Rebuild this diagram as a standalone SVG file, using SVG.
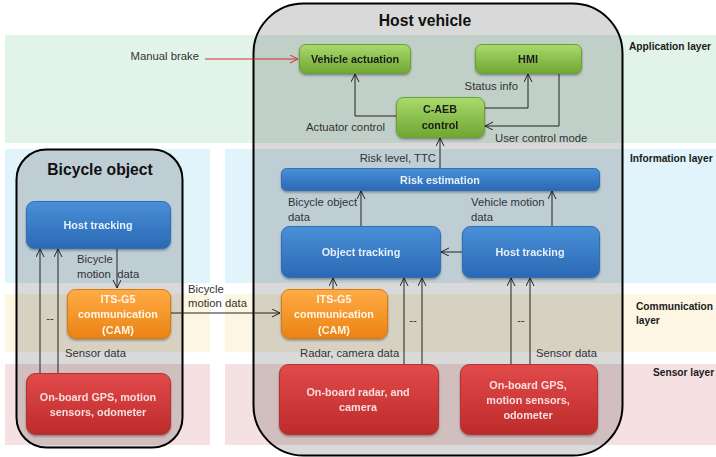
<svg xmlns="http://www.w3.org/2000/svg" width="716" height="457" viewBox="0 0 716 457">
<defs>
<linearGradient id="gG" x1="0" y1="0" x2="0" y2="1"><stop offset="0" stop-color="#a9da6e"/><stop offset="1" stop-color="#6fa631"/></linearGradient>
<linearGradient id="gB" x1="0" y1="0" x2="0" y2="1"><stop offset="0" stop-color="#4a8fd8"/><stop offset="1" stop-color="#2a69b5"/></linearGradient>
<linearGradient id="gO" x1="0" y1="0" x2="0" y2="1"><stop offset="0" stop-color="#ffac45"/><stop offset="1" stop-color="#ea8214"/></linearGradient>
<linearGradient id="gR" x1="0" y1="0" x2="0" y2="1"><stop offset="0" stop-color="#e24a4a"/><stop offset="1" stop-color="#bd2b2b"/></linearGradient>
<filter id="sh" x="-10%" y="-20%" width="120%" height="150%"><feDropShadow dx="0" dy="1.5" stdDeviation="1.2" flood-color="#000" flood-opacity="0.35"/></filter>
<marker id="ar" markerUnits="userSpaceOnUse" markerWidth="12" markerHeight="12" refX="8" refY="4" orient="auto"><path d="M0,0 L8,4 L0,8" fill="none" stroke="#222" stroke-width="1"/></marker>
<marker id="arR" markerUnits="userSpaceOnUse" markerWidth="12" markerHeight="12" refX="8" refY="4" orient="auto"><path d="M0,0 L8,4 L0,8" fill="none" stroke="#d03030" stroke-width="1"/></marker>
</defs>
<style>
.t{font-family:"Liberation Sans",Arial,sans-serif;font-size:11.3px;fill:#333}
.lay{font-family:"Liberation Sans",Arial,sans-serif;font-size:10.2px;font-weight:bold;fill:#1a1a1a}
.ttl{font-family:"Liberation Sans",Arial,sans-serif;font-size:15.7px;font-weight:bold;fill:#111;text-anchor:middle}
.nl{font-family:"Liberation Sans",Arial,sans-serif;font-size:10.8px;font-weight:bold;text-anchor:middle}
.gk{fill:#1a1a1a}.wk{fill:#e6effa}.ok{fill:#fff6ea}.rk{fill:#f8dede}
.c{fill:none;stroke:#222;stroke-width:1}
.box{filter:url(#sh)}
</style>
<g id="bands">
<rect x="5" y="35" width="711" height="108" fill="#e2f4ea"/>
<rect x="5" y="149" width="205" height="134" fill="#e1f3fb"/>
<rect x="225" y="149" width="491" height="134" fill="#e1f3fb"/>
<rect x="5" y="294" width="205" height="58" fill="#fdf6e3"/>
<rect x="225" y="294" width="491" height="58" fill="#fdf6e3"/>
<rect x="5" y="364" width="205" height="81" fill="#f6e1e2"/>
<rect x="225" y="364" width="491" height="81" fill="#f6e1e2"/>
</g>
<g id="layer-labels">
<text class="lay" x="629" y="50">Application layer</text>
<text class="lay" x="630" y="162">Information layer</text>
<text class="lay" x="636" y="310">Communication</text>
<text class="lay" x="636" y="324">layer</text>
<text class="lay" x="653" y="376">Sensor layer</text>
</g>
<g id="host-vehicle">
<rect x="253.5" y="3.5" width="369" height="452" rx="50" fill="#000" fill-opacity="0.15" stroke="#000" stroke-width="2"/>
<text class="ttl" x="425" y="26">Host vehicle</text>
</g>
<g id="bicycle-object">
<rect x="16.5" y="149.5" width="166" height="298" rx="30" fill="#000" fill-opacity="0.15" stroke="#000" stroke-width="2"/>
<text class="ttl" x="100" y="175">Bicycle object</text>
</g>
<g id="connectors">
<line x1="205" y1="59" x2="298" y2="59" stroke="#d03030" stroke-width="1" marker-end="url(#arR)"/>
<polyline class="c" points="396,116 355,116 355,74" marker-end="url(#ar)"/>
<polyline class="c" points="484,108 528,108 528,74" marker-end="url(#ar)"/>
<polyline class="c" points="559,73 559,126 485,126" marker-end="url(#ar)"/>
<line class="c" x1="440" y1="168" x2="440" y2="138" marker-end="url(#ar)"/>
<line class="c" x1="361" y1="226" x2="361" y2="191" marker-end="url(#ar)"/>
<line class="c" x1="552" y1="226" x2="552" y2="191" marker-end="url(#ar)"/>
<line class="c" x1="462" y1="252" x2="441" y2="252" marker-end="url(#ar)"/>
<line class="c" x1="333" y1="289" x2="333" y2="278" marker-end="url(#ar)"/>
<line class="c" x1="404" y1="364" x2="404" y2="278" marker-end="url(#ar)"/>
<line class="c" x1="422" y1="364" x2="422" y2="278" marker-end="url(#ar)"/>
<line class="c" x1="511" y1="364" x2="511" y2="278" marker-end="url(#ar)"/>
<line class="c" x1="530" y1="364" x2="530" y2="278" marker-end="url(#ar)"/>
<line class="c" x1="117" y1="248" x2="117" y2="288" marker-end="url(#ar)"/>
<line class="c" x1="40" y1="373" x2="40" y2="249" marker-end="url(#ar)"/>
<line class="c" x1="58" y1="373" x2="58" y2="249" marker-end="url(#ar)"/>
<line class="c" x1="170" y1="313" x2="280" y2="313" marker-end="url(#ar)"/>
<text class="t" x="199" y="60" text-anchor="end">Manual brake</text>
<text class="t" x="306" y="131">Actuator control</text>
<text class="t" x="518" y="90" text-anchor="end">Status info</text>
<text class="t" x="495" y="142">User control mode</text>
<text class="t" x="436" y="162" text-anchor="end">Risk level, TTC</text>
<text class="t" x="288" y="206">Bicycle object</text>
<text class="t" x="288" y="221">data</text>
<text class="t" x="471" y="206">Vehicle motion</text>
<text class="t" x="471" y="221">data</text>
<text class="t" x="413" y="324" text-anchor="middle">--</text>
<text class="t" x="521" y="324" text-anchor="middle">--</text>
<text class="t" x="300" y="357">Radar, camera data</text>
<text class="t" x="536" y="357">Sensor data</text>
<text class="t" x="77" y="263">Bicycle</text>
<text class="t" x="77" y="278">motion&#160; data</text>
<text class="t" x="50" y="322" text-anchor="middle">--</text>
<text class="t" x="65" y="357">Sensor data</text>
<text class="t" x="188" y="293">Bicycle</text>
<text class="t" x="188" y="307">motion data</text>
</g>
<g id="vehicle-actuation" class="box"><rect x="299.5" y="44.5" width="111" height="29" rx="6" fill="url(#gG)" stroke="#6c9e35"/><text class="nl gk" x="355" y="63">Vehicle actuation</text></g>
<g id="hmi" class="box"><rect x="475.5" y="44.5" width="106" height="29" rx="6" fill="url(#gG)" stroke="#6c9e35"/><text class="nl gk" x="528" y="63">HMI</text></g>
<g id="c-aeb-control" class="box"><rect x="396.5" y="97.5" width="88" height="40" rx="7" fill="url(#gG)" stroke="#6c9e35"/><text class="nl gk" x="440" y="113">C-AEB</text><text class="nl gk" x="440" y="129">control</text></g>
<g id="risk-estimation" class="box"><rect x="281.5" y="168.5" width="318" height="22" rx="5" fill="url(#gB)" stroke="#2f6fb8"/><text class="nl wk" x="440" y="183.5">Risk estimation</text></g>
<g id="object-tracking" class="box"><rect x="281.5" y="226.5" width="159" height="51" rx="8" fill="url(#gB)" stroke="#2f6fb8"/><text class="nl wk" x="361" y="256">Object tracking</text></g>
<g id="host-tracking" class="box"><rect x="462.5" y="226.5" width="137" height="51" rx="8" fill="url(#gB)" stroke="#2f6fb8"/><text class="nl wk" x="530" y="256">Host tracking</text></g>
<g id="bicycle-host-tracking" class="box"><rect x="26.5" y="201.5" width="144" height="47" rx="8" fill="url(#gB)" stroke="#2f6fb8"/><text class="nl wk" x="98" y="229">Host tracking</text></g>
<g id="bicycle-its-g5" class="box"><rect x="67.5" y="289.5" width="103" height="49" rx="8" fill="url(#gO)" stroke="#d77a18"/><text class="nl ok" x="118" y="303">ITS-G5</text><text class="nl ok" x="118" y="318">communication</text><text class="nl ok" x="118" y="334">(CAM)</text></g>
<g id="host-its-g5" class="box"><rect x="281.5" y="289.5" width="106" height="49" rx="8" fill="url(#gO)" stroke="#d77a18"/><text class="nl ok" x="334" y="303">ITS-G5</text><text class="nl ok" x="334" y="318">communication</text><text class="nl ok" x="334" y="334">(CAM)</text></g>
<g id="bicycle-gps" class="box"><rect x="26.5" y="373.5" width="144" height="61" rx="9" fill="url(#gR)" stroke="#b33030"/><text class="nl rk" x="98" y="401">On-board GPS, motion</text><text class="nl rk" x="98" y="416">sensors, odometer</text></g>
<g id="radar-camera" class="box"><rect x="279.5" y="364.5" width="159" height="70" rx="9" fill="url(#gR)" stroke="#b33030"/><text class="nl rk" x="358" y="396">On-board radar, and</text><text class="nl rk" x="358" y="411">camera</text></g>
<g id="host-gps" class="box"><rect x="460.5" y="364.5" width="137" height="70" rx="9" fill="url(#gR)" stroke="#b33030"/><text class="nl rk" x="528" y="389">On-board GPS,</text><text class="nl rk" x="528" y="404">motion sensors,</text><text class="nl rk" x="528" y="419">odometer</text></g>
</svg>
